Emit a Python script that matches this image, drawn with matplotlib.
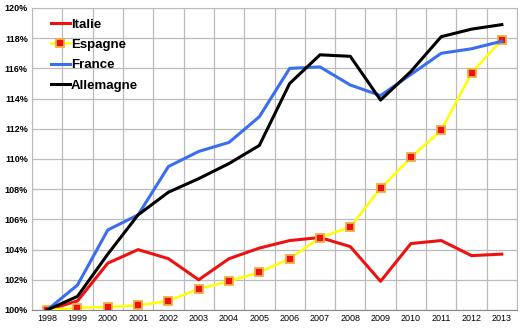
import matplotlib
matplotlib.use('Agg')
import matplotlib.pyplot as plt
from matplotlib.ticker import FixedLocator, FuncFormatter

plt.rcParams['font.family'] = ['Liberation Sans', 'DejaVu Sans']

years = list(range(1998, 2014))
italie = [100, 100.6, 103.1, 104.0, 103.4, 102.0, 103.4, 104.1, 104.6, 104.8,
          104.2, 101.9, 104.4, 104.6, 103.6, 103.7]
espagne = [100, 100.15, 100.2, 100.3, 100.6, 101.4, 101.9, 102.5, 103.4, 104.8,
           105.5, 108.05, 110.1, 111.9, 115.7, 117.9]
france = [100, 101.65, 105.3, 106.3, 109.5, 110.5, 111.1, 112.8, 116.0, 116.1,
          114.9, 114.2, 115.6, 117.0, 117.3, 117.8]
allemagne = [100, 100.9, 103.7, 106.3, 107.8, 108.7, 109.7, 110.9, 115.0, 116.9,
             116.8, 113.9, 115.8, 118.1, 118.6, 118.9]

fig = plt.figure(figsize=(5.2, 3.29), dpi=100)
ax = fig.add_axes([32 / 520, 19 / 329, 485 / 520, 302 / 329])

ax.plot(years, italie, color='#ee1111', lw=2.2, label='Italie')
ax.plot(years, espagne, color='#ffff00', lw=1.8, marker='s', markersize=6,
        markerfacecolor='#ee1111', markeredgecolor='#f0b040', markeredgewidth=1.3,
        label='Espagne')
ax.plot(years, france, color='#3a6ef0', lw=2.2, label='France')
ax.plot(years, allemagne, color='black', lw=2.2, label='Allemagne')

ax.set_xlim(1997.5, 2013.5)
ax.set_ylim(100, 120)
ax.set_xticks(years)
ax.set_xticklabels([str(y) for y in years], fontsize=6.5)
ax.xaxis.set_minor_locator(FixedLocator([y + 0.5 for y in range(1997, 2014)]))
ax.set_yticks(range(100, 121, 2))
ax.yaxis.set_major_formatter(FuncFormatter(lambda v, p: f'{int(v)}%'))
for t in ax.get_yticklabels():
    t.set_fontsize(6.5)
    t.set_fontweight('bold')
ax.tick_params(axis='both', length=0, pad=3)
ax.tick_params(axis='x', which='minor', length=0)

ax.grid(True, which='minor', axis='x', color='#bbbbbb', lw=0.9)
ax.grid(True, which='major', axis='y', color='#bbbbbb', lw=0.9)
for s in ['top', 'right', 'left']:
    ax.spines[s].set_color('#bbbbbb')
ax.spines['bottom'].set_color('#888888')

leg = ax.legend(loc='upper left', frameon=False, bbox_to_anchor=(0.015, 1.005),
                handlelength=1.4, handletextpad=0.1, labelspacing=0.62,
                prop={'size': 9.5, 'weight': 'bold'})

fig.savefig('out.png', dpi=100)
